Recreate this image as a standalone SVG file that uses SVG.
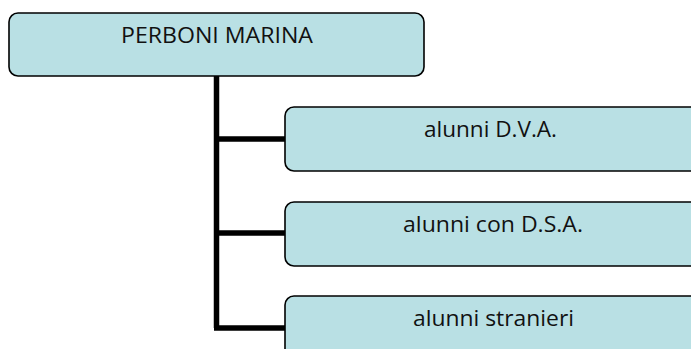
<svg xmlns="http://www.w3.org/2000/svg" width="691" height="349" viewBox="0 0 691 349">
<style>
.box{fill:#b9e0e4;stroke:#000;stroke-width:1.6}
.lbl{font-family:"Open Sans","Liberation Sans",sans-serif;font-size:22px;fill:#111;text-anchor:middle}
.con{stroke:#000;stroke-width:5.5;fill:none}
</style>
<rect width="691" height="349" fill="#fff"/>
<g id="connectors">
<path class="con" d="M216.5,76 V328 M216.5,139 H286 M216.5,233 H286 M214,328 H286"/>
</g>
<g id="node-root">
<rect class="box" x="9" y="13" width="415" height="63" rx="9"/>
<text class="lbl" x="217" y="43" textLength="192" lengthAdjust="spacingAndGlyphs">PERBONI MARINA</text>
</g>
<g id="node-dva">
<rect class="box" x="285" y="107" width="416" height="64" rx="9"/>
<text class="lbl" x="490.5" y="137" textLength="133" lengthAdjust="spacingAndGlyphs">alunni D.V.A.</text>
</g>
<g id="node-dsa">
<rect class="box" x="285" y="202" width="416" height="64" rx="9"/>
<text class="lbl" x="493" y="232" textLength="180" lengthAdjust="spacingAndGlyphs">alunni con D.S.A.</text>
</g>
<g id="node-stranieri">
<rect class="box" x="285" y="296" width="416" height="64" rx="9"/>
<text class="lbl" x="493.5" y="326" textLength="161" lengthAdjust="spacingAndGlyphs">alunni stranieri</text>
</g>
</svg>
